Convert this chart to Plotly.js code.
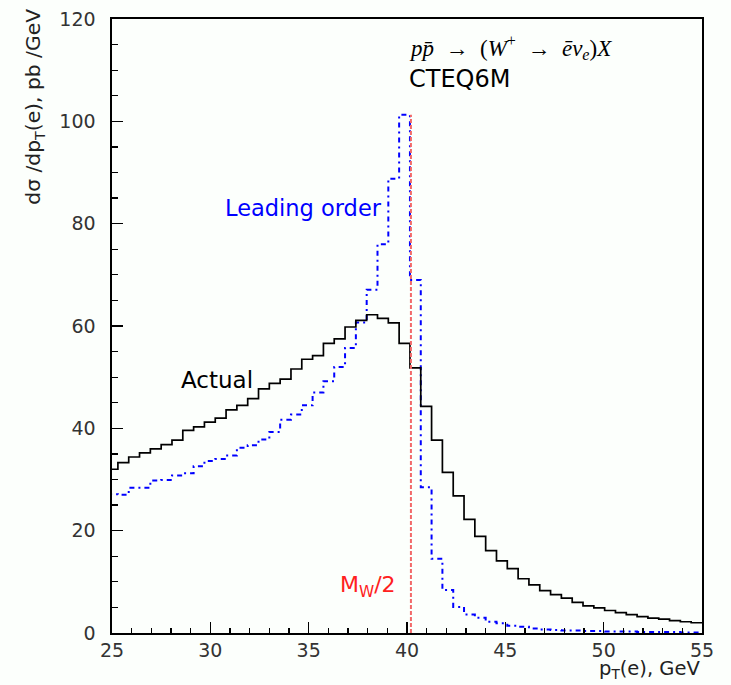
<!DOCTYPE html>
<html>
<head>
<meta charset="utf-8">
<script src="https://cdn.plot.ly/plotly-3.0.1.min.js"></script>
<style>html,body{margin:0;padding:0;background:#fcfffc;}</style>
</head>
<body>
<div id="chart" style="width:731px;height:685px;"></div>
<script>
// Bin edges in GeV (0.55 GeV bins)
const binEdges = [24.75, 25.30, 25.85, 26.40, 26.95, 27.50, 28.05, 28.60, 29.15, 29.70,
  30.25, 30.80, 31.35, 31.90, 32.45, 33.00, 33.55, 34.10, 34.65, 35.20,
  35.75, 36.30, 36.85, 37.40, 37.95, 38.50, 39.05, 39.60, 40.15, 40.70,
  41.25, 41.80, 42.35, 42.90, 43.45, 44.00, 44.55, 45.10, 45.65, 46.20,
  46.75, 47.30, 47.85, 48.40, 48.95, 49.50, 50.05, 50.60, 51.15, 51.70,
  52.25, 52.80, 53.35, 53.90, 54.45, 55.00];

// dσ/dpT(e), pb/GeV — "Actual"
const actual = [32.0, 33.3, 34.4, 35.2, 36.0, 36.8, 37.7, 39.6, 40.3, 41.2,
  42.0, 43.6, 44.5, 45.8, 47.7, 48.8, 49.6, 51.6, 53.5, 54.2,
  56.6, 57.5, 59.8, 61.1, 62.2, 61.5, 60.6, 56.6, 51.8, 44.3,
  37.7, 31.4, 26.8, 22.2, 18.9, 16.1, 14.1, 12.6, 10.6, 9.4,
  8.3, 7.5, 6.8, 6.0, 5.3, 4.9, 4.4, 4.0, 3.6, 3.2,
  2.9, 2.7, 2.4, 2.2, 2.0];

// "Leading order"
const leadingOrder = [27.1, 27.0, 28.4, 28.4, 29.8, 29.9, 30.8, 31.2, 32.6, 33.6,
  34.0, 34.7, 36.2, 36.7, 37.8, 39.3, 41.7, 42.7, 44.5, 47.0,
  49.2, 52.0, 55.7, 60.7, 67.1, 76.0, 88.8, 101.3, 69.0, 28.5,
  14.5, 8.4, 5.1, 3.6, 3.0, 2.2, 1.9, 1.4, 1.2, 0.9,
  0.7, 0.6, 0.5, 0.5, 0.4, 0.4, 0.3, 0.3, 0.3, 0.2,
  0.2, 0.2, 0.2, 0.1, 0.1];

// M_W/2 marker
const halfMW = [40.2];
const halfMWTop = [101.3];

const xTickVals = [25, 30, 35, 40, 45, 50, 55];
const xTickText = ['25', '30', '35', '40', '45', '50', '55'];
const yTickVals = [0, 20, 40, 60, 80, 100, 120];
const yTickText = ['0', '20', '40', '60', '80', '100', '120'];

function stepY(v) { return v.concat([v[v.length - 1]]); }

const traces = [
  {
    x: binEdges, y: stepY(leadingOrder), type: 'scatter', mode: 'lines',
    line: {shape: 'hv', color: '#0000ff', width: 2, dash: '5px,4px,2px,4px'},
    hoverinfo: 'skip', showlegend: false
  },
  {
    x: binEdges, y: stepY(actual), type: 'scatter', mode: 'lines',
    line: {shape: 'hv', color: '#000000', width: 1.7},
    hoverinfo: 'skip', showlegend: false
  },
  {
    x: [halfMW[0], halfMW[0]], y: [0, halfMWTop[0]], type: 'scatter', mode: 'lines',
    line: {color: 'rgb(242,105,105)', width: 2, dash: '4px,2px'},
    hoverinfo: 'skip', showlegend: false
  }
];

const tickFont = {family: 'DejaVu Sans', size: 19, color: '#333'};
const bg = '#fcfffc';

const layout = {
  width: 731, height: 685, autosize: false,
  paper_bgcolor: bg, plot_bgcolor: bg,
  margin: {l: 112, r: 29, t: 19, b: 52, pad: 0},
  showlegend: false,
  xaxis: {
    range: [25, 55], tickmode: 'array', tickvals: xTickVals, ticktext: xTickText,
    ticks: 'inside', ticklen: 11, tickwidth: 1.5, tickcolor: '#000',
    minor: {dtick: 1, ticks: 'inside', ticklen: 5, tickwidth: 1.2, tickcolor: '#000', showgrid: false},
    showline: true, mirror: true, linecolor: '#000', linewidth: 1.6,
    showgrid: false, zeroline: false, tickfont: tickFont, ticklabelstandoff: 0
  },
  yaxis: {
    range: [0, 120], tickmode: 'array', tickvals: yTickVals, ticktext: yTickText,
    ticks: 'inside', ticklen: 11, tickwidth: 1.5, tickcolor: '#000',
    minor: {dtick: 5, ticks: 'inside', ticklen: 6, tickwidth: 1.2, tickcolor: '#000', showgrid: false},
    showline: true, mirror: true, linecolor: '#000', linewidth: 1.6,
    showgrid: false, zeroline: false, tickfont: tickFont, ticklabelstandoff: 11
  },
  annotations: [
    {text: 'dσ /dp<sub>T</sub>(e), pb /GeV', xref: 'paper', yref: 'paper', x: -0.1322, y: 1.02,
     xanchor: 'center', yanchor: 'top', textangle: -90, showarrow: false,
     font: {family: 'DejaVu Sans', size: 20.3, color: '#222'}},
    {text: 'p<sub>T</sub>(e), GeV', xref: 'paper', yref: 'paper', x: 1.0, y: -0.083,
     xanchor: 'right', yanchor: 'bottom', showarrow: false,
     font: {family: 'DejaVu Sans', size: 19.5, color: '#222'}},
    {text: 'Leading order', xref: 'x', yref: 'y', x: 38.81, y: 83.0,
     xanchor: 'right', yanchor: 'middle', showarrow: false,
     font: {family: 'DejaVu Sans', size: 22.5, color: '#0000ff'}},
    {text: 'Actual', xref: 'x', yref: 'y', x: 28.41, y: 49.4,
     xanchor: 'left', yanchor: 'middle', showarrow: false,
     font: {family: 'DejaVu Sans', size: 23, color: '#000'}},
    {text: 'M<sub>W</sub>/2', xref: 'x', yref: 'y', x: 36.5, y: 9.0,
     xanchor: 'left', yanchor: 'middle', showarrow: false,
     font: {family: 'DejaVu Sans', size: 22, color: '#ff2020'}},
    {text: '<i>p</i><i>p\u0304</i>\u2002→\u2002(<i>W</i><sup>+</sup>\u2002→\u2002<i>\u0113</i><i>ν</i><sub><i>e</i></sub>)<i>X</i>',
     xref: 'x', yref: 'y', x: 40.0, y: 114.4,
     xanchor: 'left', yanchor: 'middle', showarrow: false,
     font: {family: 'Liberation Serif', size: 23, color: '#000'}},
    {text: 'CTEQ6M', xref: 'x', yref: 'y', x: 40.0, y: 108.2,
     xanchor: 'left', yanchor: 'middle', showarrow: false,
     font: {family: 'DejaVu Sans', size: 24, color: '#000'}}
  ]
};

Plotly.newPlot('chart', traces, layout, {staticPlot: true, displayModeBar: false});
</script>
</body>
</html>
